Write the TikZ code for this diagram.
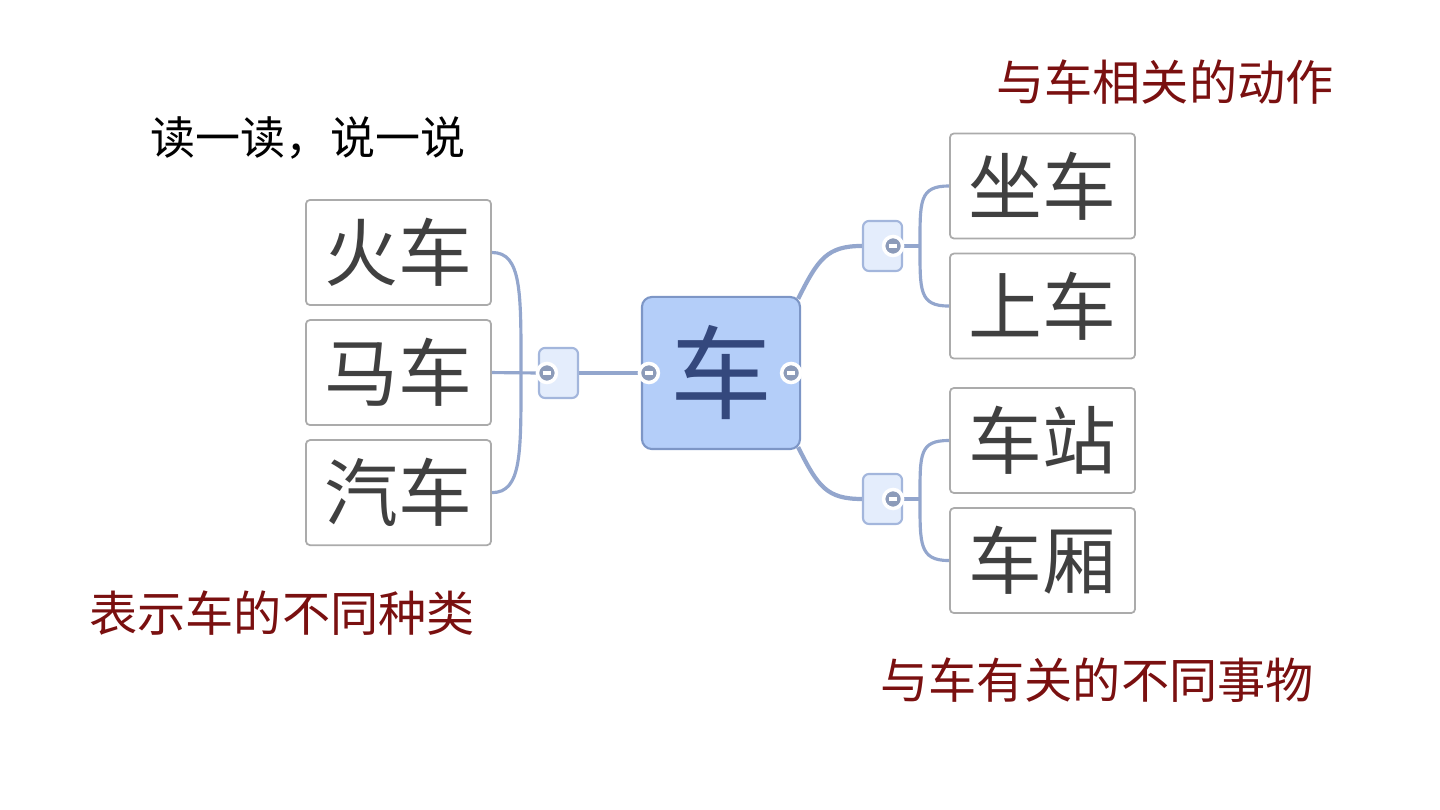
\documentclass[tikz,border=0pt]{standalone}
\usepackage{fontspec}
\newfontfamily\cjk{Noto Sans CJK SC}
\usetikzlibrary{positioning,calc}
\definecolor{linkblue}{HTML}{93A6CD}
\definecolor{rootfill}{HTML}{B4CEF9}
\definecolor{rootdraw}{HTML}{7D96C6}
\definecolor{roottext}{HTML}{34487D}
\definecolor{subfill}{HTML}{E4EDFC}
\definecolor{subdraw}{HTML}{A3B6DC}
\definecolor{knobgray}{HTML}{8C9BB9}
\definecolor{leafdraw}{HTML}{ABABAB}
\definecolor{leaftext}{HTML}{404040}
\definecolor{notered}{HTML}{7A1010}
\begin{document}
\begin{tikzpicture}[
        x=0.01cm, y=0.01cm,
        node distance=1.2cm,
        % 中心主题
        root/.style={
            rectangle, draw=rootdraw, fill=rootfill, line width=0.6pt,
            minimum width=1.58cm, minimum height=1.52cm, rounded corners=0.1cm,
            inner sep=0pt, font=\cjk\fontsize{29}{32}\selectfont, text=roottext
        },
        % 分支小方块
        sub/.style={
            rectangle, draw=subdraw, fill=subfill, line width=0.6pt,
            minimum width=0.39cm, minimum height=0.50cm, rounded corners=0.06cm,
            inner sep=0pt
        },
        % 词语方框
        leaf/.style={
            rectangle, draw=leafdraw, fill=white, line width=0.5pt,
            minimum width=1.85cm, minimum height=1.05cm, rounded corners=0.04cm,
            inner sep=0pt, font=\cjk\fontsize{21}{24}\selectfont, text=leaftext
        },
        % 折叠按钮
        knob/.style={
            circle, draw=white, fill=knobgray, line width=1pt,
            minimum size=0.19cm, inner sep=0pt,
            path picture={\draw[white, line width=1.1pt]
                ([xshift=1.5pt]path picture bounding box.west) --
                ([xshift=-1.5pt]path picture bounding box.east);}
        },
        % 说明文字
        note/.style={font=\cjk\fontsize{13.7}{16}\selectfont, text=notered},
        % 连线
        link/.style={draw=linkblue, line width=1.2pt},
        brace/.style={draw=linkblue, line width=0.9pt}
    ]
        \useasboundingbox (0,0) rectangle (1440,810);

        % 中心
        \node [root] (che) at (721,437) {车};

        % 左边：车的种类
        \node [sub] (lsub) at (558.5,437) {};
        \node [leaf] (huoche) at (398.5,557.5) {火车};
        \node [leaf, below of=huoche] (mache) {马车};
        \node [leaf, below of=mache] (qiche) {汽车};
        \coordinate (ljoin) at (521,437);

        % 右边：动作
        \node [sub] (rsubA) at (882.5,564) {};
        \node [leaf] (zuoche) at (1042.5,624) {坐车};
        \node [leaf, below of=zuoche] (shangche) {上车};
        \coordinate (rjoinA) at (920,564);

        % 右边：事物
        \node [sub] (rsubB) at (882.5,311) {};
        \node [leaf] (chezhan) at (1042.5,369.5) {车站};
        \node [leaf, below of=chezhan] (chexiang) {车厢};
        \coordinate (rjoinB) at (920,311);

        % 说明文字
        \node [note] (act) at (1165,728) {与车相关的动作};
        \node [note, text=black, font=\cjk\fontsize{12.8}{15}\selectfont] (read) at (308,672) {读一读，说一说};
        \node [note] (kind) at (282,197) {表示车的不同种类};
        \node [note] (thing) at (1097,130) {与车有关的不同事物};

        % 连线
        \draw [link] (che.west) -- (lsub.east);
        \draw [brace] (lsub.west) -- (mache.east);
        \draw [brace] (huoche.east) .. controls +(30,0) and +(0,80) .. (ljoin)
            .. controls +(0,-80) and +(30,0) .. (qiche.east);
        \draw [link] ([shift={(-3,-3)}]che.north east) .. controls +(20,40) and +(-35,0) .. (rsubA.west);
        \draw [link] ([shift={(-3,3)}]che.south east) .. controls +(20,-40) and +(-35,0) .. (rsubB.west);
        \draw [link] (rsubA.east) -- (rjoinA);
        \draw [link] (rsubB.east) -- (rjoinB);
        \draw [brace] (zuoche.west) .. controls +(-30,0) and +(0,45) .. (rjoinA)
            .. controls +(0,-45) and +(-30,0) .. (shangche.west);
        \draw [brace] (chezhan.west) .. controls +(-30,0) and +(0,45) .. (rjoinB)
            .. controls +(0,-45) and +(-30,0) .. (chexiang.west);

        % 按钮
        \node [knob] (kl) at ($(che.west)+(8,0)$) {};
        \node [knob] (kr) at ($(che.east)+(-10,0)$) {};
        \node [knob] (kls) at ($(lsub.west)+(9,0)$) {};
        \node [knob] (krA) at ($(rsubA.east)+(-10,0)$) {};
        \node [knob] (krB) at ($(rsubB.east)+(-10,0)$) {};

    \end{tikzpicture}
\end{document}
